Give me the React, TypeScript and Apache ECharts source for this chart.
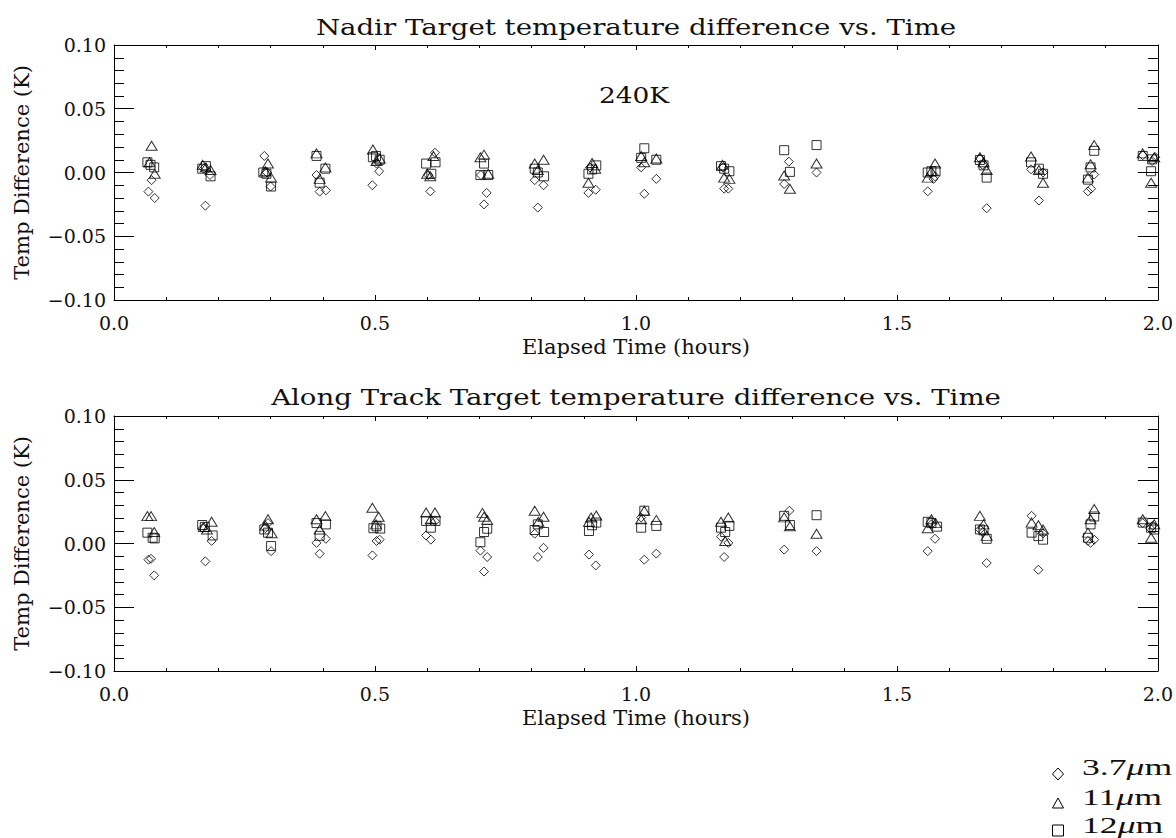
import React, { useEffect, useRef } from "react";
import * as echarts from "echarts";

// Elapsed time (hours) vs temperature difference (K), per channel.
const nadir37: number[][] = [
  [0.072, -0.006], [0.066, -0.015], [0.078, -0.02],
  [0.172, 0.003], [0.184, -0.002], [0.175, -0.026],
  [0.288, 0.013], [0.293, 0.0], [0.3, -0.011],
  [0.388, -0.002], [0.394, -0.015], [0.406, -0.014],
  [0.503, 0.007], [0.508, 0.001], [0.495, -0.01],
  [0.615, 0.0155], [0.602, -0.002], [0.606, -0.0148],
  [0.703, -0.002], [0.714, -0.016], [0.709, -0.025],
  [0.806, -0.006], [0.823, -0.01], [0.812, -0.0275],
  [0.912, 0.004], [0.909, -0.016], [0.923, -0.0135],
  [1.01, 0.004], [1.039, -0.005], [1.016, -0.0167],
  [1.167, 0.004], [1.169, -0.0127], [1.177, -0.0127],
  [1.293, 0.0085], [1.284, -0.009],
  [1.346, 0.0],
  [1.573, -0.003], [1.57, -0.005], [1.559, -0.0148],
  [1.659, 0.011], [1.664, 0.006], [1.672, -0.028],
  [1.757, 0.0025], [1.78, 0.0], [1.772, -0.022],
  [1.878, -0.0016], [1.866, -0.0148], [1.872, -0.0127],
  [1.971, 0.0135], [1.989, 0.009], [1.995, 0.012],
];

const nadir11: number[][] = [
  [0.072, 0.021], [0.068, 0.008], [0.078, -0.001],
  [0.17, 0.006], [0.185, 0.002], [0.176, 0.004],
  [0.295, 0.007], [0.29, 0.001], [0.301, -0.004],
  [0.388, 0.015], [0.405, 0.004], [0.394, -0.005],
  [0.496, 0.018], [0.503, 0.009], [0.509, 0.011],
  [0.612, 0.013], [0.6, -0.001], [0.606, -0.003],
  [0.709, 0.014], [0.702, 0.012], [0.717, -0.001],
  [0.823, 0.01], [0.806, 0.007], [0.812, 0.002],
  [0.916, 0.0075], [0.909, -0.008], [0.922, 0.003],
  [1.01, 0.013], [1.016, 0.008], [1.039, 0.011],
  [1.166, 0.006], [1.169, -0.004], [1.179, -0.005],
  [1.284, -0.0024], [1.295, -0.0127],
  [1.346, 0.007],
  [1.573, 0.007], [1.559, -0.004], [1.566, 0.001],
  [1.659, 0.012], [1.666, 0.008], [1.672, 0.002],
  [1.757, 0.0125], [1.772, 0.002], [1.78, -0.008],
  [1.878, 0.0215], [1.871, 0.0065], [1.866, -0.004],
  [1.971, 0.015], [1.993, 0.012], [1.987, -0.008],
];

const nadir12: number[][] = [
  [0.064, 0.008], [0.07, 0.006], [0.077, 0.004],
  [0.169, 0.003], [0.176, 0.005], [0.185, -0.003],
  [0.286, 0.0], [0.292, -0.001], [0.301, -0.011],
  [0.388, 0.013], [0.394, -0.008], [0.405, 0.003],
  [0.496, 0.012], [0.502, 0.013], [0.509, 0.01],
  [0.598, 0.007], [0.616, 0.008], [0.608, -0.001],
  [0.709, 0.007], [0.702, -0.002], [0.717, -0.002],
  [0.806, 0.003], [0.812, 0.0], [0.824, -0.003],
  [0.924, 0.0056], [0.916, 0.0024], [0.909, -0.001],
  [1.016, 0.019], [1.01, 0.0115], [1.039, 0.01],
  [1.163, 0.005], [1.169, 0.003], [1.179, 0.001],
  [1.284, 0.0175], [1.295, 0.0005],
  [1.346, 0.0215],
  [1.559, 0.0], [1.566, 0.001], [1.574, 0.001],
  [1.659, 0.0098], [1.666, 0.0056], [1.672, -0.004],
  [1.757, 0.008], [1.772, 0.003], [1.78, -0.001],
  [1.878, 0.017], [1.871, 0.004], [1.866, -0.0056],
  [1.971, 0.013], [1.989, 0.0103], [1.987, 0.001],
];

const along37: number[][] = [
  [0.066, -0.0127], [0.071, -0.012], [0.077, -0.025],
  [0.17, 0.012], [0.187, 0.002], [0.175, -0.014],
  [0.295, 0.016], [0.29, 0.012], [0.301, -0.006],
  [0.388, 0.0005], [0.406, 0.0037], [0.394, -0.008],
  [0.503, 0.002], [0.509, 0.003], [0.495, -0.0093],
  [0.598, 0.0063], [0.607, 0.003], [0.615, 0.0175],
  [0.702, -0.0056], [0.715, -0.0106], [0.709, -0.022],
  [0.806, 0.0077], [0.823, -0.0034], [0.812, -0.0106],
  [0.91, -0.0087], [0.923, -0.0172],
  [1.01, 0.0204], [1.016, -0.0127], [1.039, -0.0079],
  [1.163, 0.0053], [1.177, 0.0005], [1.169, -0.0106],
  [1.294, 0.0257], [1.284, -0.0048],
  [1.346, -0.006],
  [1.573, 0.0037], [1.559, -0.006], [1.566, 0.015],
  [1.659, 0.0111], [1.665, 0.009], [1.672, -0.0153],
  [1.758, 0.0217], [1.78, 0.008], [1.771, -0.0206],
  [1.866, 0.002], [1.871, 0.0005], [1.878, 0.003],
  [1.971, 0.016], [1.99, 0.014], [1.985, 0.012],
];

const along11: number[][] = [
  [0.064, 0.0215], [0.071, 0.0215], [0.077, 0.009],
  [0.187, 0.017], [0.172, 0.013], [0.178, 0.011],
  [0.295, 0.019], [0.29, 0.014], [0.302, 0.008],
  [0.388, 0.019], [0.405, 0.0215], [0.394, 0.011],
  [0.495, 0.028], [0.507, 0.021], [0.502, 0.015],
  [0.598, 0.0243], [0.615, 0.0243], [0.607, 0.019],
  [0.706, 0.024], [0.715, 0.0185], [0.709, 0.021],
  [0.806, 0.0257], [0.823, 0.021], [0.813, 0.017],
  [0.914, 0.0204], [0.924, 0.022], [0.91, 0.017],
  [1.016, 0.0257], [1.01, 0.019], [1.039, 0.0185],
  [1.163, 0.017], [1.177, 0.0204], [1.171, 0.002],
  [1.284, 0.0205], [1.295, 0.0135],
  [1.346, 0.0077],
  [1.566, 0.019], [1.559, 0.012], [1.574, 0.016],
  [1.659, 0.0217], [1.666, 0.015], [1.672, 0.006],
  [1.758, 0.0164], [1.771, 0.0143], [1.78, 0.011],
  [1.878, 0.027], [1.871, 0.019], [1.866, 0.0085],
  [1.971, 0.019], [1.993, 0.015], [1.987, 0.0045],
];

const along12: number[][] = [
  [0.064, 0.0085], [0.074, 0.0045], [0.078, 0.004],
  [0.169, 0.0145], [0.174, 0.013], [0.189, 0.0063],
  [0.288, 0.011], [0.295, 0.0085], [0.301, -0.002],
  [0.388, 0.016], [0.406, 0.015], [0.394, 0.006],
  [0.497, 0.012], [0.503, 0.0135], [0.51, 0.0117],
  [0.598, 0.0177], [0.616, 0.0177], [0.607, 0.0124],
  [0.709, 0.009], [0.715, 0.0116], [0.702, 0.001],
  [0.812, 0.015], [0.806, 0.0106], [0.824, 0.009],
  [0.924, 0.0164], [0.916, 0.0143], [0.91, 0.0098],
  [1.016, 0.0257], [1.01, 0.0124], [1.039, 0.0138],
  [1.163, 0.0124], [1.179, 0.0138], [1.171, 0.009],
  [1.284, 0.0217], [1.295, 0.0145],
  [1.346, 0.0222],
  [1.559, 0.017], [1.566, 0.016], [1.577, 0.0132],
  [1.659, 0.011], [1.666, 0.0103], [1.672, 0.0037],
  [1.758, 0.0085], [1.771, 0.0058], [1.78, 0.003],
  [1.878, 0.0212], [1.871, 0.015], [1.866, 0.0045],
  [1.971, 0.0164], [1.987, 0.0124], [1.993, 0.011],
];

const channelNames = ["3.7μm", "11μm", "12μm"];
const channelSymbols = ["diamond", "triangle", "rect"];
const channelSizes: number[][] = [[9, 9], [11, 9], [9, 9]];

const panelTitles = [
  "Nadir Target temperature difference vs. Time",
  "Along Track Target temperature difference vs. Time",
];
const xName = "Elapsed Time (hours)";
const yName = "Temp Difference (K)";
const annotation = "240K";

const FONT = '"DejaVu Serif", serif';
const TEX = '"Liberation Serif", serif';
const INK = "#000";
const TEXT_INK = "#111";

const W = 1176;
const GRID_LEFT = 114;
const GRID_RIGHT = 18;
const GRID_H = 255;
const GRID_TOPS = [45, 416];
const CENTER_X = (GRID_LEFT + W - GRID_RIGHT) / 2;

function fmtY(v: number): string {
  const s = Math.abs(v).toFixed(2);
  return v < -1e-9 ? "\u2212" + s : s;
}

function xAxisFor(gridIndex: number, position: "bottom" | "top") {
  const main = position === "bottom";
  return {
    type: "value",
    gridIndex,
    position,
    min: 0,
    max: 2,
    interval: 0.5,
    name: main ? xName : "",
    nameLocation: "middle",
    nameGap: 36,
    nameTextStyle: { fontFamily: FONT, fontSize: 21, color: TEXT_INK },
    axisLine: { show: true, onZero: false, lineStyle: { color: INK, width: 1 } },
    axisTick: { show: true, inside: true, length: 5, lineStyle: { color: INK } },
    minorTick: { show: true, splitNumber: 5, length: 3, lineStyle: { color: INK } },
    axisLabel: {
      show: main,
      margin: 13,
      fontFamily: FONT,
      fontSize: 19,
      color: TEXT_INK,
      formatter: (v: number) => v.toFixed(1),
    },
    splitLine: { show: false },
  };
}

function yAxisFor(gridIndex: number, position: "left" | "right") {
  const main = position === "left";
  return {
    type: "value",
    gridIndex,
    position,
    min: -0.1,
    max: 0.1,
    interval: 0.05,
    name: main ? yName : "",
    nameLocation: "middle",
    nameGap: 82,
    nameTextStyle: { fontFamily: FONT, fontSize: 21, color: TEXT_INK },
    axisLine: { show: true, onZero: false, lineStyle: { color: INK, width: 1 } },
    axisTick: { show: true, inside: true, length: 20, lineStyle: { color: INK } },
    minorTick: { show: true, splitNumber: 5, length: 10, lineStyle: { color: INK } },
    axisLabel: {
      show: main,
      margin: 8,
      fontFamily: FONT,
      fontSize: 19,
      color: TEXT_INK,
      formatter: fmtY,
    },
    splitLine: { show: false },
  };
}

function scatter(name: string, k: number, data: number[][], axis: number) {
  return {
    type: "scatter",
    name,
    xAxisIndex: axis,
    yAxisIndex: axis,
    data,
    symbol: channelSymbols[k],
    symbolSize: channelSizes[k],
    itemStyle: { color: "transparent", borderColor: INK, borderWidth: 1 },
    emphasis: { disabled: true },
  };
}

// Stretched serif text, like the wide vector font of the plot labels.
function wideText(text: string, x: number, y: number, size: number, stretch: number) {
  return {
    type: "text",
    x,
    y,
    scaleX: stretch,
    style: {
      text,
      font: `${size}px ${FONT}`,
      fill: TEXT_INK,
      align: "center",
      verticalAlign: "middle",
    },
  };
}

// Legend rows: outline marker plus a "value μm" label in a TeX-like face.
const LEG_X = 1058;
const LEG_TEXT_X = 1082;
const LEG_ROWS = [767, 797, 825];

function legendMarker(k: number, cy: number) {
  const stroke = { fill: "none", stroke: INK, lineWidth: 1 };
  if (k === 0) {
    return {
      type: "polygon",
      shape: { points: [[LEG_X, cy + 1], [LEG_X + 5.5, cy + 7], [LEG_X, cy + 13], [LEG_X - 5.5, cy + 7]] },
      style: stroke,
    };
  }
  if (k === 1) {
    return {
      type: "polygon",
      shape: { points: [[LEG_X, cy + 1], [LEG_X + 5.5, cy + 11], [LEG_X - 5.5, cy + 11]] },
      style: stroke,
    };
  }
  return {
    type: "rect",
    shape: { x: LEG_X - 5.5, y: cy, width: 11, height: 11 },
    style: stroke,
  };
}

function legendLabel(name: string, cy: number) {
  return {
    type: "text",
    x: LEG_TEXT_X,
    y: cy,
    scaleX: 1.55,
    style: {
      text: `{n|${name.replace("μm", "")}}{u|μ}{n|m}`,
      align: "left",
      verticalAlign: "middle",
      rich: {
        n: { fontFamily: TEX, fontSize: 23, fill: TEXT_INK, color: TEXT_INK },
        u: { fontFamily: TEX, fontSize: 23, fontStyle: "italic", fill: TEXT_INK, color: TEXT_INK },
      },
    },
  };
}

export default function App() {
  const ref = useRef<HTMLDivElement>(null);

  useEffect(() => {
    if (!ref.current) return;
    const chart = echarts.init(ref.current, undefined, { renderer: "svg" });
    const nadir = [nadir37, nadir11, nadir12];
    const along = [along37, along11, along12];

    chart.setOption({
      animation: false,
      backgroundColor: "#fff",
      grid: GRID_TOPS.map((top) => ({
        left: GRID_LEFT,
        right: GRID_RIGHT,
        top,
        height: GRID_H,
        containLabel: false,
      })),
      xAxis: [
        xAxisFor(0, "bottom"),
        xAxisFor(1, "bottom"),
        xAxisFor(0, "top"),
        xAxisFor(1, "top"),
      ],
      yAxis: [
        yAxisFor(0, "left"),
        yAxisFor(1, "left"),
        yAxisFor(0, "right"),
        yAxisFor(1, "right"),
      ],
      graphic: [
        wideText(panelTitles[0], CENTER_X, 27, 23, 1.2),
        wideText(panelTitles[1], CENTER_X, 397, 23, 1.2),
        wideText(annotation, 634, 95, 23, 1.15),
        ...channelNames.map((n, k) => legendMarker(k, LEG_ROWS[k])),
        ...channelNames.map((n, k) => legendLabel(n, LEG_ROWS[k])),
      ],
      series: [
        ...nadir.map((d, k) => scatter(channelNames[k], k, d, 0)),
        ...along.map((d, k) => scatter(channelNames[k], k, d, 1)),
      ],
    });

    return () => chart.dispose();
  }, []);

  return (
    <div
      ref={ref}
      style={{ position: "fixed", left: 0, top: 0, width: W, height: 838, background: "#fff" }}
    />
  );
}
